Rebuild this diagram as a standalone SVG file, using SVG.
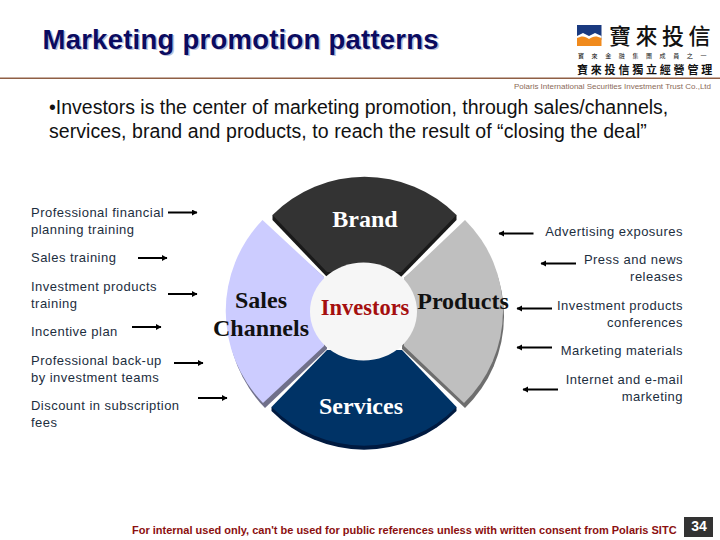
<svg xmlns="http://www.w3.org/2000/svg" width="720" height="540" viewBox="0 0 720 540">
<style>
.s{font-family:"Liberation Sans",Arial,sans-serif}
.c{font-family:"Liberation Serif","Times New Roman",serif;font-weight:bold}
.l{font-size:13px;fill:#1c2e3e;letter-spacing:.47px}
.r{text-anchor:end}
.w{font-size:24px;text-anchor:middle}
.cjk{font-family:"Noto Sans CJK TC",sans-serif;fill:#111}
.ln{stroke:#000;stroke-width:2;fill:none;marker-end:url(#a)}
</style>
<defs>
<marker id="a" markerUnits="userSpaceOnUse" markerWidth="7" markerHeight="7" refX="5" refY="3" orient="auto"><path d="M0 0L5.500 3L0 6Z" fill="#000"/></marker>
</defs>
<rect width="720" height="540" fill="#fff"/>
<g id="title">
<text class="s" x="44" y="50" font-size="27.500" font-weight="bold" fill="#b9c0dc" letter-spacing=".24">Marketing promotion patterns</text>
<text class="s" x="42.500" y="48.500" font-size="27.500" font-weight="bold" fill="#0b0b60" letter-spacing=".24">Marketing promotion patterns</text>
</g>
<g id="logo">
<path d="M577 25H601.500V40C596 37 594 36.500 589 40C585 36.500 582 37 577 40Z" fill="#1a3a80"/>
<path d="M577 36L583 33L589 36L595 33L601.500 36V46H577Z" fill="#fff"/>
<path d="M577 38C582 35.500 585 36 589 39C593 36 596 35.500 601.500 38V46H577Z" fill="#f08a1d"/>
<text class="cjk" x="609" y="44" font-size="22" font-weight="500" letter-spacing="4.500">寶來投信</text>
<text class="cjk" x="578" y="58" font-size="6" letter-spacing="7.600">寶來金融集團成員之一</text>
<text class="cjk" x="577" y="74" font-size="11" font-weight="bold" letter-spacing="2.800">寶來投信獨立經營管理</text>
<rect x="0" y="77.500" width="720" height="1.500" fill="#8f5f44"/>
<text class="s" x="514" y="89" font-size="8" fill="#8a6a58" textLength="197">Polaris International Securities Investment Trust Co.,Ltd</text>
</g>
<g id="intro" class="s" font-size="19.500" fill="#111">
<text x="49" y="114">•Investors is the center of marketing promotion, through sales/channels,</text>
<text x="49" y="138" letter-spacing=".07">services, brand and products, to reach the result of “closing the deal”</text>
</g>
<g id="wheel">
<g id="brand">
<path d="M272.500 215V220L327 277H401L456.500 220V215Z" fill="#1a1a1a"/>
<path d="M272.500 215A130 130 0 0 1 456.500 215L401 272H327Z" fill="#333"/>
<text class="c w" x="365" y="227" fill="#fff">Brand</text>
</g>
<g id="sales">
<path d="M264.500 225A131.600 131.600 0 0 0 265 408L327 349L324 277Z" fill="#70708a"/>
<path d="M262.500 220A131.600 131.600 0 0 0 263 403L324 346L324 277Z" fill="#ccccff"/>
<text class="c w" x="261" y="308" fill="#111">Sales</text>
<text class="c w" x="261" y="336" fill="#111">Channels</text>
</g>
<g id="products">
<path d="M466 225A128 128 0 0 1 465 408L402 349L404 278Z" fill="#6e6e6e"/>
<path d="M465 220A128 128 0 0 1 464 403L404 346L404 278Z" fill="#bfbfbf"/>
<text class="c w" x="463" y="309" fill="#111">Products</text>
</g>
<g id="services">
<path d="M271.500 407V411A130 130 0 0 0 456.500 411V407Z" fill="#001a40"/>
<path d="M271.500 407A130 130 0 0 0 456.500 407L402 350H327Z" fill="#003366"/>
<text class="c w" x="361" y="414" fill="#fff">Services</text>
</g>
<g id="investors">
<ellipse cx="363.500" cy="311.500" rx="53.500" ry="49" fill="#f6f6f6"/>
<text class="c" x="365" y="315" font-size="22.500" text-anchor="middle" fill="#a50f0f">Investors</text>
</g>
</g>
<g id="left-labels" class="s l">
<text x="31" y="217">Professional financial</text>
<text x="31" y="234">planning training</text>
<text x="31" y="262">Sales training</text>
<text x="31" y="291">Investment products</text>
<text x="31" y="308">training</text>
<text x="31" y="336">Incentive plan</text>
<text x="31" y="365">Professional back-up</text>
<text x="31" y="382">by investment teams</text>
<text x="31" y="410">Discount in subscription</text>
<text x="31" y="427">fees</text>
</g>
<g id="right-labels" class="s l r">
<text x="683" y="236">Advertising exposures</text>
<text x="683" y="264">Press and news</text>
<text x="683" y="281">releases</text>
<text x="683" y="310">Investment products</text>
<text x="683" y="327">conferences</text>
<text x="683" y="355">Marketing materials</text>
<text x="683" y="384">Internet and e-mail</text>
<text x="683" y="401">marketing</text>
</g>
<g id="connectors">
<path class="ln" d="M168 212.500H197"/>
<path class="ln" d="M138 258H167"/>
<path class="ln" d="M168 294H197"/>
<path class="ln" d="M132 327H161"/>
<path class="ln" d="M174 363H203"/>
<path class="ln" d="M198 398H227"/>
<path class="ln" d="M533.500 233.500H499"/>
<path class="ln" d="M576 263.500H541"/>
<path class="ln" d="M552 308.500H517"/>
<path class="ln" d="M552 347.500H517"/>
<path class="ln" d="M558 389.500H523"/>
</g>
<g id="footer">
<text class="s" x="132" y="534" font-size="11" font-weight="bold" fill="#8b1010">For internal used only, can't be used for public references unless with written consent from Polaris SITC</text>
<rect x="684" y="517" width="29" height="20" fill="#333"/>
<text class="s" x="699" y="531" font-size="14" font-weight="bold" fill="#fff" text-anchor="middle">34</text>
</g>
</svg>
